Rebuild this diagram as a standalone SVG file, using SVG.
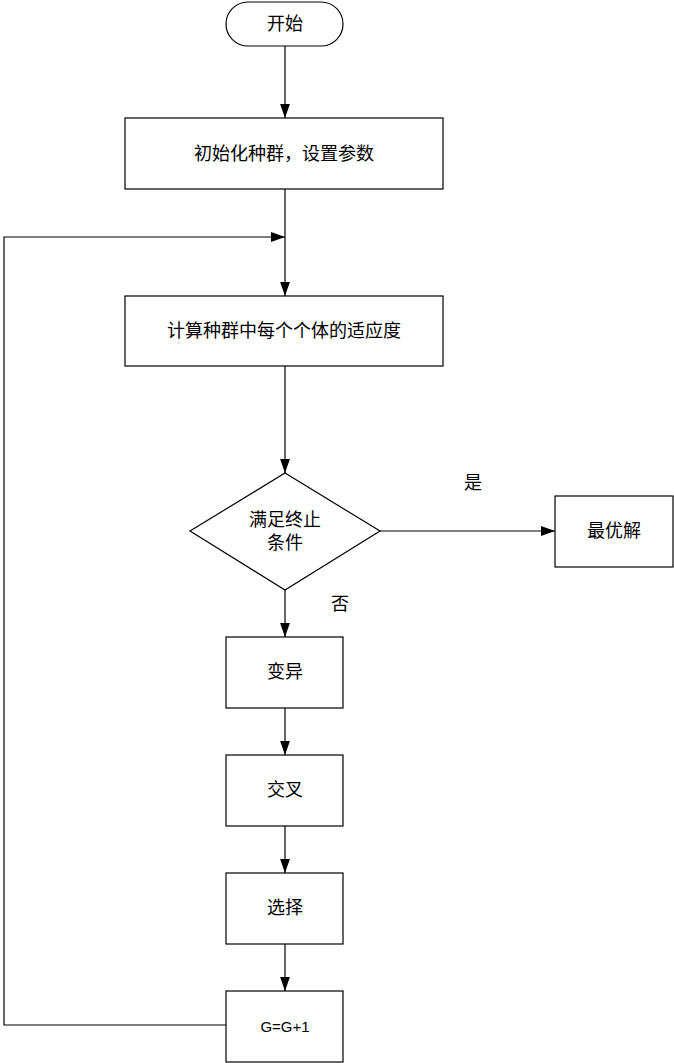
<svg xmlns="http://www.w3.org/2000/svg" width="674" height="1063" viewBox="0 0 674 1063">
<style>
.n{fill:#fff;stroke:#000;stroke-width:1.2}
.t{font-family:"Liberation Serif","Noto Sans CJK SC",serif;font-size:18px;text-anchor:middle;dominant-baseline:central;fill:#000}
.c{fill:none;stroke:#000;stroke-width:1.2;marker-end:url(#a)}
</style>
<defs><marker id="a" viewBox="0 0 10 10" refX="10" refY="5" markerWidth="14" markerHeight="14" markerUnits="userSpaceOnUse" orient="auto"><path d="M0,1.5L10,5L0,8.5Z" fill="#000"/></marker></defs>
<rect width="674" height="1063" fill="#fff"/>
<g id="connectors">
<path class="c" d="M285,46V118"/>
<path class="c" d="M285,189V296"/>
<path class="c" d="M226,1025H4V237H285"/>
<path class="c" d="M285,366V473"/>
<path class="c" d="M380,531H555"/>
<path class="c" d="M285,590V637"/>
<path class="c" d="M285,708V755"/>
<path class="c" d="M285,826V873"/>
<path class="c" d="M285,944V991"/>
<text class="t" x="473" y="483">是</text>
<text class="t" x="340" y="604">否</text>
</g>
<g id="start"><rect class="n" x="226" y="2" width="117" height="44" rx="22"/><text class="t" x="285" y="24">开始</text></g>
<g id="init"><rect class="n" x="125" y="118" width="318" height="71"/><text class="t" x="284" y="154">初始化种群，设置参数</text></g>
<g id="fitness"><rect class="n" x="125" y="296" width="318" height="70"/><text class="t" x="284" y="331">计算种群中每个个体的适应度</text></g>
<g id="cond"><path class="n" d="M285,473L380,531L285,590L190,531Z"/><text class="t" x="285" y="520">满足终止</text><text class="t" x="285" y="543">条件</text></g>
<g id="best"><rect class="n" x="555" y="496" width="118" height="71"/><text class="t" x="614" y="531">最优解</text></g>
<g id="mutate"><rect class="n" x="226" y="637" width="117" height="71"/><text class="t" x="285" y="672">变异</text></g>
<g id="cross"><rect class="n" x="226" y="755" width="117" height="71"/><text class="t" x="285" y="790">交叉</text></g>
<g id="select"><rect class="n" x="226" y="873" width="117" height="71"/><text class="t" x="285" y="908">选择</text></g>
<g id="inc"><rect class="n" x="226" y="991" width="117" height="71"/><text class="t" x="285" y="1026" style="font-family:'Liberation Sans',sans-serif;font-size:15px">G=G+1</text></g>
</svg>
